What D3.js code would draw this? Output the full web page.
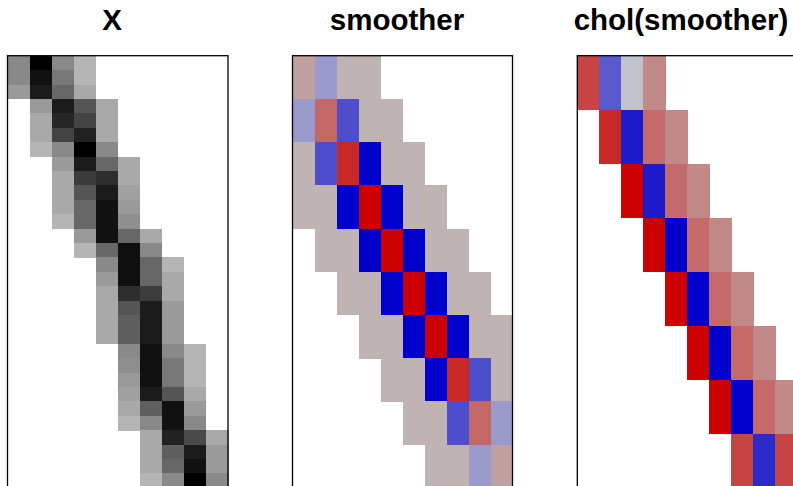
<!DOCTYPE html>
<html>
<head>
<meta charset="utf-8">
<script src="https://cdn.jsdelivr.net/npm/d3@7"></script>
<style>
    body { margin: 0; background: #fff; }
    svg { display: block; }
    .title { font-family: "Liberation Sans", Arial, sans-serif; font-weight: bold; font-size: 29.5px; }
</style>
</head>
<body>
<svg id="chart" width="793" height="486"></svg>
<script>
// ---- data --------------------------------------------------------------
// every matrix is stored as banded rows: first non-zero column (0-based) + values

// X : 30 x 10 basis matrix, values = grey intensity (0 light .. 1 black)
let xStart = [0, 0, 0, 1, 1, 1, 1, 2, 2, 2, 2, 2, 3, 3, 4, 4, 4, 4, 4, 4, 5, 5, 5, 5, 5, 5, 6, 6, 6, 6];
let xValues = [
    [0.28, 1.00, 0.28, 0.05],
    [0.28, 0.91, 0.37, 0.05],
    [0.19, 0.86, 0.46, 0.11],
    [0.19, 0.86, 0.55, 0.11],
    [0.11, 0.80, 0.64, 0.11],
    [0.11, 0.64, 0.82, 0.11],
    [0.05, 0.28, 1.00, 0.28],
    [0.19, 0.86, 0.46, 0.11],
    [0.11, 0.69, 0.76, 0.11],
    [0.11, 0.55, 0.86, 0.16],
    [0.11, 0.46, 0.91, 0.19],
    [0.05, 0.46, 0.91, 0.25],
    [0.19, 0.91, 0.46, 0.11],
    [0.05, 0.46, 0.92, 0.28],
    [0.28, 0.92, 0.46, 0.05],
    [0.19, 0.92, 0.46, 0.11],
    [0.11, 0.76, 0.68, 0.11],
    [0.11, 0.55, 0.86, 0.19],
    [0.11, 0.50, 0.86, 0.19],
    [0.11, 0.50, 0.86, 0.19],
    [0.28, 0.91, 0.28, 0.05],
    [0.25, 0.91, 0.37, 0.05],
    [0.19, 0.91, 0.37, 0.05],
    [0.16, 0.86, 0.55, 0.11],
    [0.11, 0.50, 0.91, 0.19],
    [0.05, 0.28, 0.91, 0.28],
    [0.11, 0.82, 0.61, 0.11],
    [0.11, 0.50, 0.86, 0.19],
    [0.11, 0.46, 0.91, 0.19],
    [0.05, 0.28, 1.00, 0.28]
];

// smoother : 10 x 10 symmetric band (scaled -1 .. 1)
let smoothStart = [0, 0, 0, 0, 1, 2, 3, 4, 5, 6];
let smoothValues = [
    [0.16, -0.25, 0.06, 0.06],
    [-0.25, 0.46, -0.62, 0.06, 0.06],
    [0.06, -0.62, 0.79, -1, 0.06, 0.06],
    [0.06, 0.06, -1, 1, -1, 0.06, 0.06],
    [0.06, 0.06, -1, 1, -1, 0.06, 0.06],
    [0.06, 0.06, -1, 1, -1, 0.06, 0.06],
    [0.06, 0.06, -1, 1, -1, 0.06, 0.06],
    [0.06, 0.06, -1, 0.79, -0.62, 0.06],
    [0.06, 0.06, -0.62, 0.46, -0.25],
    [0.06, 0.06, -0.25, 0.16]
];

// chol(smoother) : upper triangular band, 8 x 10
let cholStart = [0, 1, 2, 3, 4, 5, 6, 7];
let cholValues = [
    [0.64, -0.56, -0.05, 0.28],
    [0.79, -0.87, 0.44, 0.28],
    [1, -0.87, 0.44, 0.28],
    [1, -1, 0.44, 0.28],
    [1, -1, 0.44, 0.28],
    [1, -1, 0.44, 0.28],
    [1, -1, 0.44, 0.28],
    [0.64, -0.79, 0.64]
];

let titles = ["X", "smoother", "chol(smoother)"];

// ---- colour scales -----------------------------------------------------
let greyScale = d3.scaleLinear().domain([0, 1]).range(["#bebebe", "#000000"]);
let negScale = d3.scaleLinear().domain([-1, 0]).range(["#0000cc", "#cccccc"]);
let posScale = d3.scaleLinear().domain([0, 1]).range(["#bebebe", "#cc0000"]);
function divColor(v) { return v < 0 ? negScale(v) : posScale(v); }

// ---- layout ------------------------------------------------------------
let panelTop = 55.7, panelHeight = 432, nCols = 10;
let panels = [
    { left: 7.5, width: 220.5, titleX: 112, start: xStart, values: xValues, color: greyScale },
    { left: 292.5, width: 220, titleX: 397, start: smoothStart, values: smoothValues, color: divColor },
    { left: 577.3, width: 220, titleX: 681, start: cholStart, values: cholValues, color: divColor }
];

let svg = d3.select("#chart");

panels.forEach(function (p, k) {
    let x = d3.scaleBand().domain(d3.range(nCols)).range([p.left, p.left + p.width]);
    let y = d3.scaleBand().domain(d3.range(p.values.length)).range([panelTop, panelTop + panelHeight]);

    // flatten banded rows into cells
    let cells = [];
    p.values.forEach(function (row, i) {
        row.forEach(function (v, j) {
            cells.push({ row: i, col: p.start[i] + j, value: v });
        });
    });

    let g = svg.append("g").attr("class", "panel");

    g.selectAll("rect.cell")
        .data(cells)
        .enter().append("rect")
        .attr("class", "cell")
        .attr("x", function (d) { return x(d.col); })
        .attr("y", function (d) { return y(d.row); })
        .attr("width", x.bandwidth() + 0.5)
        .attr("height", y.bandwidth() + 0.5)
        .attr("shape-rendering", "crispEdges")
        .style("fill", function (d) { return p.color(d.value); });

    // frame round the image
    g.append("rect")
        .attr("x", p.left)
        .attr("y", panelTop)
        .attr("width", p.width)
        .attr("height", panelHeight)
        .style("fill", "none")
        .style("stroke", "#000")
        .style("stroke-width", 1.3);

    svg.append("text")
        .attr("class", "title")
        .attr("x", p.titleX)
        .attr("y", 30)
        .attr("text-anchor", "middle")
        .text(titles[k]);
});
</script>
</body>
</html>
